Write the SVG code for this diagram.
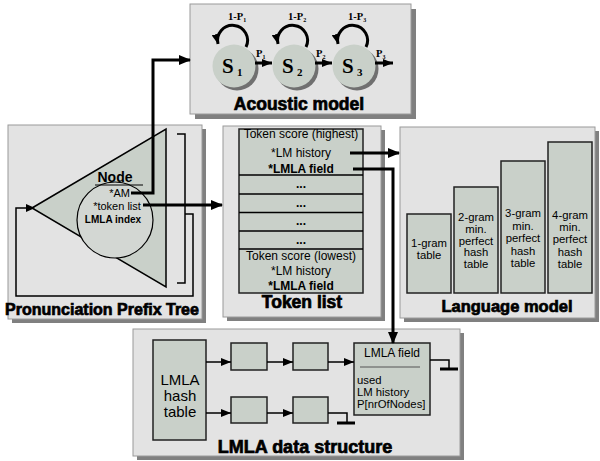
<svg xmlns="http://www.w3.org/2000/svg" width="600" height="461" viewBox="0 0 600 461">
<defs>
<marker id="ah" markerUnits="userSpaceOnUse" markerWidth="12" markerHeight="10" refX="11" refY="5" orient="auto"><path d="M0,0 L12,5 L0,10 Z" fill="#000"/></marker>
<marker id="as" markerUnits="userSpaceOnUse" markerWidth="10" markerHeight="8" refX="10" refY="4" orient="auto"><path d="M0,0 L10,4 L0,8 Z" fill="#000"/></marker>
<marker id="al" markerUnits="userSpaceOnUse" markerWidth="9" markerHeight="8" refX="5" refY="4" orient="auto"><path d="M0,0 L9,4 L0,8 Z" fill="#000"/></marker>
</defs>
<style>
.panel{fill:#e3e3e3;stroke:#9a9a9a;stroke-width:1}
.shadow{fill:#808080}
.box{fill:#c9d0c9;stroke:#222;stroke-width:1.5}
.title{font-family:"Liberation Sans",Arial,sans-serif;font-weight:bold;fill:#000;text-anchor:middle;stroke:#000;stroke-width:0.7}
.t{font-family:"Liberation Sans",Arial,sans-serif;font-size:12px;fill:#000;text-anchor:middle}
.n{font-size:11.3px}
.l{text-anchor:start}
.s{font-family:"Liberation Serif","Times New Roman",serif;font-weight:bold;fill:#000}
.b{font-weight:bold}
.thick{fill:none;stroke:#000;stroke-width:3}
.thin{fill:none;stroke:#000;stroke-width:1.5}
</style>
<rect width="600" height="461" fill="#fff"/>

<!-- Acoustic model -->
<g id="acoustic-model">
<rect class="shadow" x="195" y="9" width="221" height="110"/>
<rect class="panel" x="190" y="4" width="221" height="110"/>
<g id="s1">
<circle cx="237" cy="69" r="21.5" fill="#707070"/>
<circle cx="234" cy="66" r="21.5" fill="#c9d0c9"/>
<text class="s" x="222" y="73" font-size="21">S</text><text class="s" x="237" y="76" font-size="11">1</text>
</g>
<g id="s2">
<circle cx="297" cy="69" r="21.5" fill="#707070"/>
<circle cx="294" cy="66" r="21.5" fill="#c9d0c9"/>
<text class="s" x="282" y="73" font-size="21">S</text><text class="s" x="297" y="76" font-size="11">2</text>
</g>
<g id="s3">
<circle cx="357" cy="69" r="21.5" fill="#707070"/>
<circle cx="354" cy="66" r="21.5" fill="#c9d0c9"/>
<text class="s" x="342" y="73" font-size="21">S</text><text class="s" x="357" y="76" font-size="11">3</text>
</g>
<text class="s" x="228" y="20" font-size="10.5">1-P<tspan font-size="6" dy="2">1</tspan></text>
<text class="s" x="288" y="20" font-size="10.5">1-P<tspan font-size="6" dy="2">2</tspan></text>
<text class="s" x="348" y="20" font-size="10.5">1-P<tspan font-size="6" dy="2">3</tspan></text>
<text class="s" x="256" y="57" font-size="10.5">P<tspan font-size="6" dy="2">1</tspan></text>
<text class="s" x="316" y="57" font-size="10.5">P<tspan font-size="6" dy="2">2</tspan></text>
<text class="s" x="376" y="57" font-size="10.5">P<tspan font-size="6" dy="2">3</tspan></text>
<text class="title" x="299" y="110" font-size="17.5">Acoustic model</text>
</g>

<!-- Pronunciation prefix tree -->
<g id="prefix-tree">
<rect class="shadow" x="12" y="129" width="194" height="194"/>
<rect class="panel" x="8" y="125" width="194" height="194"/>
<polygon points="32,208 166,129 166,287" fill="#c9d0c9" stroke="#000" stroke-width="1.5"/>
<ellipse cx="115" cy="220" rx="38" ry="38" fill="#d3d7d3" stroke="#000" stroke-width="1.2"/>
<text class="t b" x="115" y="182" style="font-size:14px">Node</text>
<line x1="95" y1="185" x2="143" y2="185" stroke="#000" stroke-width="1"/>
<text class="t" x="130" y="197" style="font-size:11px;text-anchor:end">*AM</text>
<text class="t" x="117" y="210" style="font-size:11px">*token list</text>
<text class="t b" x="113" y="223" style="font-size:10px">LMLA index</text>
<path class="thin" d="M177,134 H185 V283 H177"/>
<path class="thin" d="M185,214 H193 V296 H16 V208 H31" marker-end="url(#al)"/>
<text class="title" x="102" y="315" font-size="16">Pronunciation Prefix Tree</text>
</g>

<!-- Token list -->
<g id="token-list">
<rect class="shadow" x="227" y="130" width="158" height="191"/>
<rect class="panel" x="223" y="126" width="158" height="191"/>
<rect class="box" x="239" y="129" width="124" height="164"/>
<line class="thin" x1="239" y1="175" x2="363" y2="175"/>
<line class="thin" x1="239" y1="194" x2="363" y2="194"/>
<line class="thin" x1="239" y1="212.5" x2="363" y2="212.5"/>
<line class="thin" x1="239" y1="231" x2="363" y2="231"/>
<line class="thin" x1="239" y1="249" x2="363" y2="249"/>
<text class="t" x="301" y="138">Token score (highest)</text>
<text class="t" x="301" y="157">*LM history</text>
<text class="t b" x="301" y="173">*LMLA field</text>
<text class="t b" x="301" y="188">...</text>
<text class="t b" x="301" y="207">...</text>
<text class="t b" x="301" y="225">...</text>
<text class="t b" x="301" y="244">...</text>
<text class="t" x="301" y="260">Token score (lowest)</text>
<text class="t" x="301" y="275">*LM history</text>
<text class="t b" x="301" y="290">*LMLA field</text>
<text class="title" x="302" y="308" font-size="17.5">Token list</text>
</g>

<!-- Language model -->
<g id="language-model">
<rect class="shadow" x="404" y="131" width="195" height="191"/>
<rect class="panel" x="400" y="127" width="195" height="191"/>
<rect class="box" x="407" y="214" width="44" height="79"/>
<rect class="box" x="454" y="187" width="44" height="106"/>
<rect class="box" x="501" y="161" width="44" height="132"/>
<rect class="box" x="548" y="142" width="44" height="151"/>
<text class="t n" x="429" y="247">1-gram</text>
<text class="t n" x="429" y="259">table</text>
<text class="t n" x="476" y="221">2-gram</text>
<text class="t n" x="476" y="233">min.</text>
<text class="t n" x="476" y="244.5">perfect</text>
<text class="t n" x="476" y="256">hash</text>
<text class="t n" x="476" y="268">table</text>
<text class="t n" x="523" y="217">3-gram</text>
<text class="t n" x="523" y="229.5">min.</text>
<text class="t n" x="523" y="242">perfect</text>
<text class="t n" x="523" y="254.5">hash</text>
<text class="t n" x="523" y="267">table</text>
<text class="t n" x="570" y="219">4-gram</text>
<text class="t n" x="570" y="231">min.</text>
<text class="t n" x="570" y="243">perfect</text>
<text class="t n" x="570" y="255.5">hash</text>
<text class="t n" x="570" y="268">table</text>
<text class="title" x="507" y="312" font-size="16.5">Language model</text>
</g>

<!-- LMLA data structure -->
<g id="lmla-structure">
<rect class="shadow" x="137" y="333" width="327" height="127"/>
<rect class="panel" x="133" y="329" width="327" height="127"/>
<rect class="box" x="153" y="340" width="53" height="100"/>
<text class="t" x="180" y="385" style="font-size:15px">LMLA</text>
<text class="t" x="180" y="401" style="font-size:15px">hash</text>
<text class="t" x="180" y="417" style="font-size:15px">table</text>
<rect class="box" x="231" y="343" width="36" height="27"/>
<rect class="box" x="293" y="343" width="35" height="27"/>
<rect class="box" x="231" y="397" width="36" height="26"/>
<rect class="box" x="293" y="397" width="35" height="26"/>
<rect class="box" x="354" y="343" width="76" height="72"/>
<text class="t" x="392" y="357">LMLA field</text>
<line x1="360" y1="367" x2="420" y2="367" stroke="#555" stroke-width="1"/>
<text class="t n l" x="357" y="384">used</text>
<text class="t n l" x="357" y="396">LM history</text>
<text class="t n l" x="357" y="408">P[nrOfNodes]</text>
<text class="title" x="305" y="453" font-size="18">LMLA data structure</text>
</g>

<!-- Connectors -->
<g id="connectors">
<path class="thick" d="M246,47 A15,15 0 1 0 218,44" marker-end="url(#as)"/>
<path class="thick" d="M306,47 A15,15 0 1 0 278,44" marker-end="url(#as)"/>
<path class="thick" d="M366,47 A15,15 0 1 0 338,44" marker-end="url(#as)"/>
<path class="thick" d="M255,63 H272" marker-end="url(#as)"/>
<path class="thick" d="M315,63 H332" marker-end="url(#as)"/>
<path class="thick" d="M375,63 H393" marker-end="url(#as)"/>
<path class="thick" d="M131,193 H153 V60 H190" marker-end="url(#ah)"/>
<path class="thick" d="M143,205 H222" marker-end="url(#ah)"/>
<path class="thick" d="M350,153 H399" marker-end="url(#ah)"/>
<path class="thick" d="M353,169 H393 V343" marker-end="url(#ah)"/>
<path class="thin" d="M206,362 H231" marker-end="url(#as)"/>
<path class="thin" d="M267,362 H293" marker-end="url(#as)"/>
<path class="thin" d="M328,362 H354" marker-end="url(#as)"/>
<path class="thin" d="M206,413 H231" marker-end="url(#as)"/>
<path class="thin" d="M267,413 H293" marker-end="url(#as)"/>
<path class="thin" d="M328,413 H347 V423"/>
<line x1="337" y1="423" x2="355" y2="423" stroke="#000" stroke-width="3"/>
<path class="thin" d="M430,360 H449 V369"/>
<line x1="440" y1="369" x2="458" y2="369" stroke="#000" stroke-width="3"/>
</g>
</svg>
